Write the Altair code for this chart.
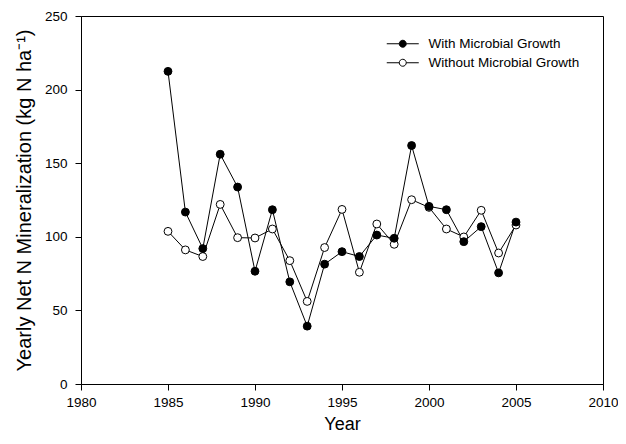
import altair as alt
import pandas as pd

years = list(range(1985, 2006))
with_growth = [212.4, 116.8, 92.0, 156.1, 133.8, 76.6, 118.4, 69.4, 39.3, 81.4,
               89.9, 86.6, 101.2, 99.0, 162.0, 120.7, 118.4, 96.7, 106.9, 75.5, 110.0]
without_growth = [103.7, 91.1, 86.6, 122.0, 99.4, 99.2, 105.3, 83.8, 56.1, 92.7,
                  118.6, 75.9, 108.7, 94.9, 125.2, 120.0, 105.3, 99.9, 118.0, 89.0, 108.0]
series_names = ["With Microbial Growth", "Without Microbial Growth"]
x_ticks = [1980, 1985, 1990, 1995, 2000, 2005, 2010]
y_ticks = [0, 50, 100, 150, 200, 250]

rows = []
for i, yr in enumerate(years):
    rows.append({"Year": yr, "value": without_growth[i], "series": series_names[1], "order": 0})
for i, yr in enumerate(years):
    rows.append({"Year": yr, "value": with_growth[i], "series": series_names[0], "order": 1})
df = pd.DataFrame(rows)

FONT = "Liberation Sans"

x = alt.X("Year:Q", scale=alt.Scale(domain=[1980, 2010], nice=False, zero=False),
          axis=alt.Axis(values=x_ticks, format="d", title="Year", grid=False,
                        tickSize=6, labelPadding=5, labelFontSize=13.5,
                        titleFontSize=18, titlePadding=7, labelFlush=False))
y = alt.Y("value:Q", scale=alt.Scale(domain=[0, 250], nice=False),
          axis=alt.Axis(values=y_ticks, title="Yearly Net N Mineralization (kg N ha\u207b\u00b9)",
                        grid=False, tickSize=6, labelPadding=8, labelFontSize=13.5,
                        titleFontSize=20, titlePadding=10))

lines = alt.Chart(df).mark_line(color="black", strokeWidth=1).encode(
    x=x, y=y, detail="series:N"
)

legend_path = ("M-3.2,0L-0.7,0M0.7,0L3.2,0"
               "M0.7,0A0.7,0.7,0,1,1,-0.7,0A0.7,0.7,0,1,1,0.7,0Z")

points = alt.Chart(df).mark_point(filled=True, stroke="black", strokeWidth=1,
                                  size=62, opacity=1).encode(
    x=x, y=y,
    fill=alt.Fill("series:N",
                  scale=alt.Scale(domain=series_names, range=["black", "white"]),
                  legend=alt.Legend(title=None, orient="none", legendX=315, legendY=21,
                                    symbolType=legend_path, symbolSize=100,
                                    symbolStrokeColor="black", symbolStrokeWidth=1,
                                    labelFontSize=13.5, labelOffset=19, rowPadding=4,
                                    labelFont=FONT, padding=0)),
    order=alt.Order("order:Q")
)

chart = alt.layer(lines, points).properties(
    width=522, height=368,
    autosize=alt.AutoSizeParams(type="none"),
    padding={"left": 73, "top": 8, "right": 15, "bottom": 52},
    background="white",
).configure_view(
    stroke="black", strokeWidth=1
).configure_axis(
    labelFont=FONT, titleFont=FONT, labelColor="black", titleColor="black",
    domainColor="black", tickColor="black", titleFontWeight="normal"
).configure_legend(
    labelColor="black"
)

chart.save("out.html", embed_options={"renderer": "svg", "actions": False})
